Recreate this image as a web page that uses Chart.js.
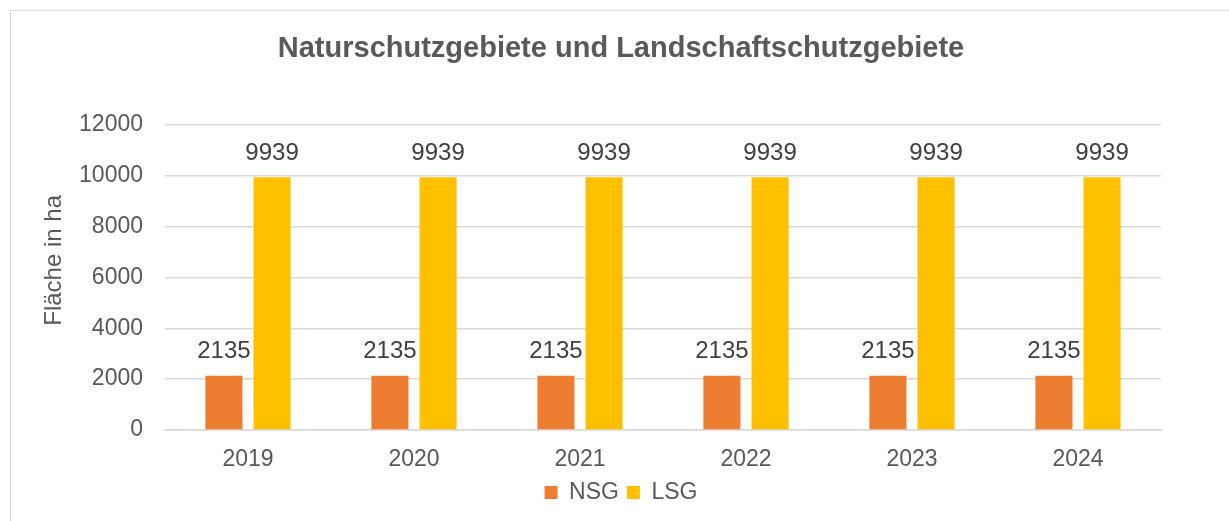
<!DOCTYPE html>
<html>
<head>
<meta charset="utf-8">
<script src="https://cdn.jsdelivr.net/npm/chart.js@4/dist/chart.umd.min.js"></script>
<style>
  html, body { margin: 0; padding: 0; background: #fff; overflow: hidden; }
  #wrap { position: relative; width: 1229px; height: 521px; }
  #frame { position: absolute; left: 10px; top: 10px; width: 1240px; height: 540px; border: 1.5px solid #d9d9d9; }
  canvas { position: absolute; left: 0; top: 0; }
</style>
</head>
<body>
<div id="wrap">
  <div id="frame"></div>
  <canvas id="flaechen" width="1229" height="521"></canvas>
</div>
<script>
// Naturschutzgebiete / Landschaftschutzgebiete, Fläche in ha
const years = ["2019", "2020", "2021", "2022", "2023", "2024"];
const nsg = [2135, 2135, 2135, 2135, 2135, 2135];
const lsg = [9939, 9939, 9939, 9939, 9939, 9939];
const yTicks = [0, 2000, 4000, 6000, 8000, 10000, 12000];
const yTitle = 'Fläche in ha';

const fontFamily = "'Liberation Sans', Arial, sans-serif";

// value labels above the bars
const barLabels = {
  id: 'barLabels',
  afterDatasetsDraw(chart) {
    const ctx = chart.ctx;
    ctx.save();
    ctx.font = '24px ' + fontFamily;
    ctx.fillStyle = '#404040';
    ctx.textAlign = 'center';
    ctx.textBaseline = 'bottom';
    chart.data.datasets.forEach((ds, i) => {
      chart.getDatasetMeta(i).data.forEach((bar, j) => {
        ctx.fillText(String(ds.data[j]), bar.x, bar.y - 12);
      });
    });
    ctx.restore();
  }
};

// title + legend are centred on the whole frame, not on the plot
const centerOnFrame = {
  id: 'centerOnFrame',
  afterLayout(chart) {
    [chart.titleBlock, chart.legend].forEach(box => {
      if (!box) return;
      box.left = 10;
      box.right = 1232;
      box.width = 1222;
    });
  }
};

// y axis title sits a bit above the middle of the plot, like in excel
const axisTitle = {
  id: 'axisTitle',
  afterDraw(chart) {
    const ctx = chart.ctx;
    const area = chart.chartArea;
    ctx.save();
    ctx.translate(54, (area.top + area.bottom) / 2 - 17);
    ctx.rotate(-Math.PI / 2);
    ctx.font = '24px ' + fontFamily;
    ctx.fillStyle = '#595959';
    ctx.textAlign = 'center';
    ctx.textBaseline = 'middle';
    ctx.fillText(yTitle, 0, 0);
    ctx.restore();
  }
};

function drawChart() {
  const ctx = document.getElementById("flaechen").getContext('2d');
  const chart = new Chart(ctx, {
    type: 'bar',
    data: {
      labels: years,
      datasets: [
        {
          label: "NSG",
          backgroundColor: '#ED7D31',
          data: nsg,
          categoryPercentage: 0.58,
          barPercentage: 0.77
        },
        {
          label: "LSG",
          backgroundColor: '#FFC000',
          data: lsg,
          categoryPercentage: 0.58,
          barPercentage: 0.77
        }
      ]
    },
    options: {
      responsive: false,
      animation: false,
      layout: { padding: { left: 40, right: 68, top: 20, bottom: 7 } },
      plugins: {
        title: {
          display: true,
          text: 'Naturschutzgebiete und Landschaftschutzgebiete',
          color: '#595959',
          font: { family: fontFamily, size: 29, weight: 'bold' },
          padding: { top: 12, bottom: 58 }
        },
        legend: {
          position: 'bottom',
          labels: {
            color: '#595959',
            font: { family: fontFamily, size: 23 },
            boxWidth: 13,
            boxHeight: 13,
            padding: 8
          }
        },
        tooltip: { enabled: false }
      },
      scales: {
        x: {
          grid: { display: false },
          border: { color: '#d9d9d9', width: 1.5 },
          afterFit(scale) { scale.height = 43; },
          ticks: { color: '#595959', font: { family: fontFamily, size: 23 }, padding: 8 }
        },
        y: {
          min: 0,
          max: 12000,
          afterBuildTicks(scale) { scale.ticks = yTicks.map(v => ({ value: v })); },
          afterFit(scale) { scale.width = 125; },
          grid: { color: '#d9d9d9', lineWidth: 1.5, drawTicks: false },
          border: { display: false },
          ticks: {
            color: '#595959',
            font: { family: fontFamily, size: 23 },
            padding: 22,
            callback: v => String(v)
          }
        }
      }
    },
    plugins: [barLabels, centerOnFrame, axisTitle]
  });
}
drawChart()
</script>
</body>
</html>
